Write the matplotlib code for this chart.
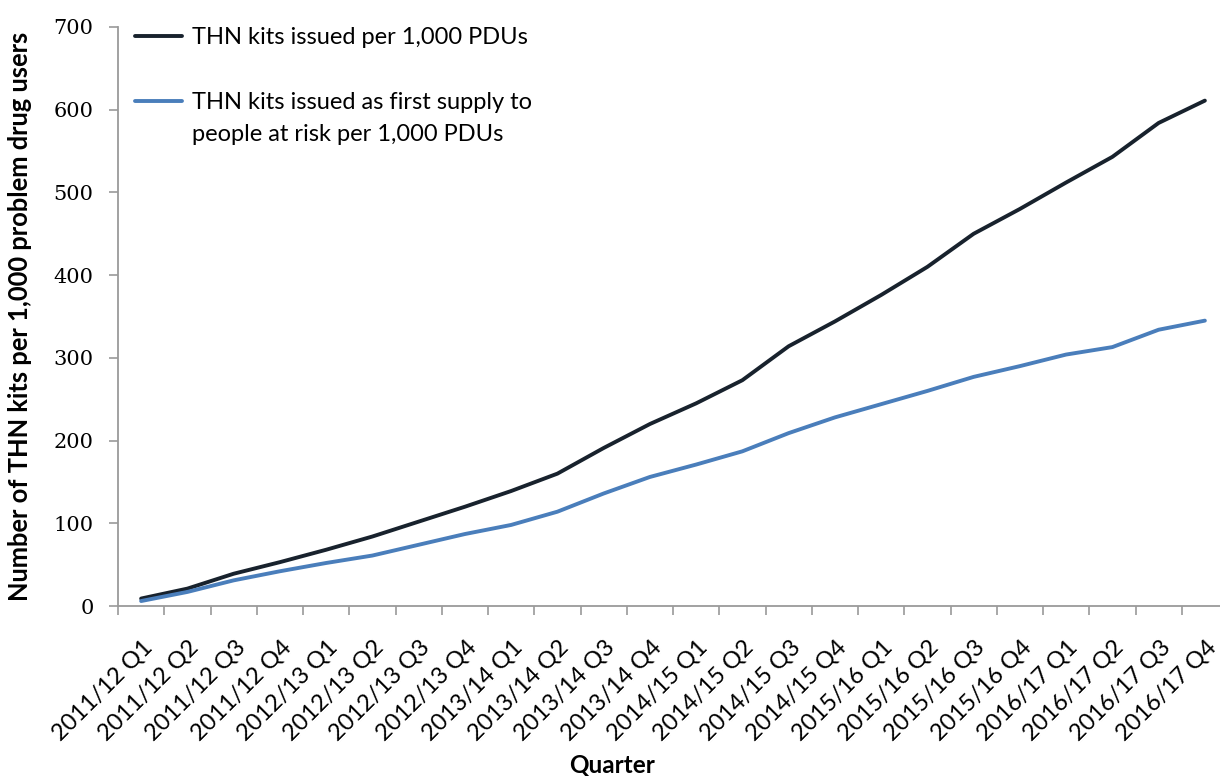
import numpy as np
import matplotlib
matplotlib.use("Agg")
import matplotlib.pyplot as plt
from matplotlib.transforms import ScaledTranslation

# Dữ liệu
quarters = [
    "2011/12 Q1", "2011/12 Q2", "2011/12 Q3", "2011/12 Q4",
    "2012/13 Q1", "2012/13 Q2", "2012/13 Q3", "2012/13 Q4",
    "2013/14 Q1", "2013/14 Q2", "2013/14 Q3", "2013/14 Q4",
    "2014/15 Q1", "2014/15 Q2", "2014/15 Q3", "2014/15 Q4",
    "2015/16 Q1", "2015/16 Q2", "2015/16 Q3", "2015/16 Q4",
    "2016/17 Q1", "2016/17 Q2", "2016/17 Q3", "2016/17 Q4",
]
kits_total = [9, 21, 39, 53, 68, 84, 102, 120, 139, 160, 191, 220,
              245, 273, 314, 344, 376, 410, 450, 480, 512, 543, 584, 611]
kits_first = [6, 17, 31, 42, 52, 61, 74, 87, 98, 114, 136, 156,
              171, 187, 209, 228, 244, 260, 277, 290, 304, 313, 334, 345]
y_ticks = [0, 100, 200, 300, 400, 500, 600, 700]

label_total = "THN kits issued per 1,000 PDUs"
label_first_1 = "THN kits issued as first supply to"
label_first_2 = "people at risk per 1,000 PDUs"

sans = ["Lato", "DejaVu Sans"]
fs = 17
grey = "#9a9a9a"

fig = plt.figure(figsize=(12.2, 7.76), dpi=100)
ax = fig.add_axes([118 / 1220, (776 - 606) / 776, (1228 - 118) / 1220, (606 - 27) / 776])

x = np.arange(len(quarters))
l1, = ax.plot(x, kits_total, color="#18222d", lw=2.8, solid_capstyle="round")
l2, = ax.plot(x, kits_first, color="#4a7ebb", lw=2.8, solid_capstyle="round")

ax.set_xlim(-0.5, len(quarters) - 0.5)
ax.set_ylim(0, 700)

# Trục
for s in ["top", "right"]:
    ax.spines[s].set_visible(False)
for s in ["left", "bottom"]:
    ax.spines[s].set_color(grey)
    ax.spines[s].set_linewidth(1.3)

ax.set_yticks(y_ticks)
ax.set_yticklabels([str(v) for v in y_ticks], family="DejaVu Serif", fontsize=15)
ax.tick_params(axis="y", length=6.5, width=1.2, color=grey, pad=11)

ax.set_xticks(x)
ax.set_xticks(np.arange(-0.5, len(quarters), 1), minor=True)
ax.set_xticklabels(quarters, rotation=45, ha="right", va="center",
                   rotation_mode="anchor", family=sans, fontsize=fs)
ax.tick_params(axis="x", which="major", length=0, pad=27)
ax.tick_params(axis="x", which="minor", length=6.5, width=1.2, color=grey)
offset = ScaledTranslation(8 / 100, 0, fig.dpi_scale_trans)
for lab in ax.get_xticklabels():
    lab.set_transform(lab.get_transform() + offset)

ax.set_xlabel("Quarter", family=sans, fontsize=17.5, fontweight="bold")
ax.xaxis.set_label_coords(0.445, -0.255)
ax.set_ylabel("Number of THN kits per 1,000 problem drug users",
              family=sans, fontsize=18.4, fontweight="bold")
ax.yaxis.set_label_coords(-0.0775, 0.5)

# Chú thích
leg = ax.legend([l1, l2], [label_total, label_first_1], loc="upper left",
                bbox_to_anchor=(0.0153, 1.0), frameon=False, borderaxespad=0,
                borderpad=0, handlelength=2.0, handletextpad=0.4,
                labelspacing=1.87, prop={"family": sans, "size": fs})
ax.annotate(label_first_2, xy=(0, 0), xycoords=leg.get_texts()[1],
            xytext=(0, -8), textcoords="offset points", va="top", ha="left",
            family=sans, fontsize=fs, zorder=10)

plt.savefig("out.png", dpi=100)
